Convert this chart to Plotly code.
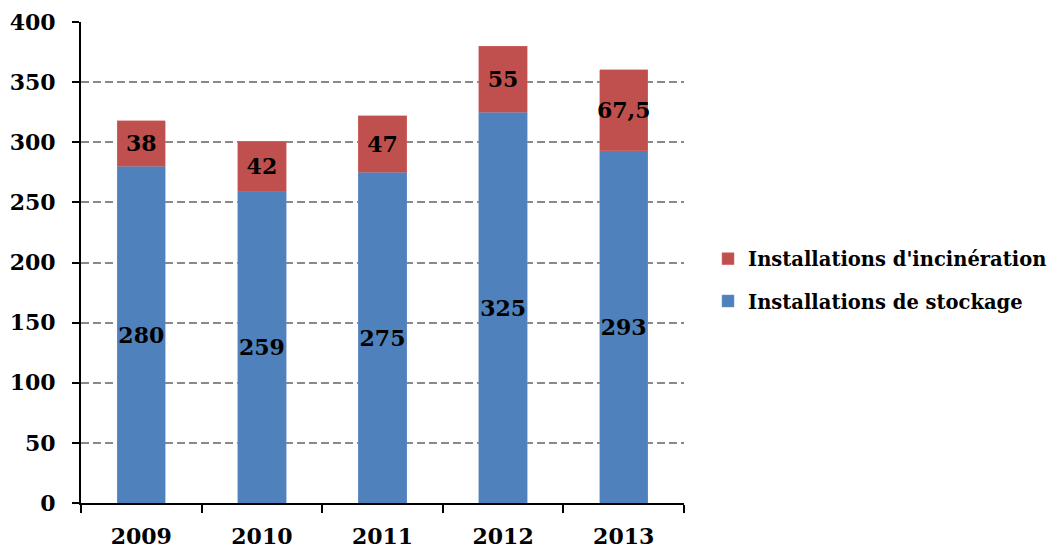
import plotly.graph_objects as go

years = ["2009", "2010", "2011", "2012", "2013"]
stockage = [280, 259, 275, 325, 293]
incineration = [38, 42, 47, 55, 67.5]
stockage_labels = ["280", "259", "275", "325", "293"]
incineration_labels = ["38", "42", "47", "55", "67,5"]
y_ticks = [0, 50, 100, 150, 200, 250, 300, 350, 400]

FONT = "DejaVu Serif"

fig = go.Figure()
fig.add_trace(go.Bar(
    x=years, y=stockage, name="<b>Installations de stockage</b>",
    legendgroup="s", legendrank=2,
    marker=dict(color="#4F81BD", line=dict(color="#6F95C8", width=0.5)),
    text=[f"<b>{t}</b>" for t in stockage_labels], textposition="inside",
    insidetextanchor="middle", textangle=0, constraintext="none",
    textfont=dict(family=FONT, size=22, color="black"),
    width=0.4,
))
fig.add_trace(go.Bar(
    x=years, y=incineration, name="<b>Installations d'incinération</b>",
    legendgroup="i", legendrank=1,
    marker=dict(color="#C0504D", line=dict(color="#D07270", width=0.5)),
    text=[f"<b>{t}</b>" for t in incineration_labels], textposition="inside",
    insidetextanchor="middle", textangle=0, constraintext="none",
    textfont=dict(family=FONT, size=22, color="black"),
    width=0.4,
))

fig.update_layout(
    barmode="stack",
    width=1056, height=549,
    margin=dict(l=73, r=380, t=14, b=54),
    plot_bgcolor="white", paper_bgcolor="white",
    font=dict(family=FONT, size=22, color="black"),
    legend=dict(
        xref="container", yref="container",
        x=0.6629, y=0.5046, xanchor="left", yanchor="middle",
        traceorder="grouped", tracegroupgap=14,
        font=dict(family=FONT, size=19.5, color="black"),
        itemwidth=30,
    ),
    showlegend=True,
)
fig.update_xaxes(
    automargin=False,
    showline=True, linecolor="black", linewidth=2,
    ticks="outside", tickson="boundaries", ticklen=8, tickcolor="black", tickwidth=2,
    tickfont=dict(family=FONT, size=22, color="black"),
    tickprefix="<b>", ticksuffix="</b>",
    ticklabelstandoff=13,
    showgrid=False,
)
fig.update_yaxes(
    automargin=False,
    range=[0, 400], tickvals=y_ticks,
    ticktext=[f"<b>{v}</b>" for v in y_ticks],
    showline=True, linecolor="black", linewidth=2,
    ticks="outside", ticklen=7, tickcolor="black", tickwidth=2,
    tickfont=dict(family=FONT, size=22, color="black"),
    ticklabelstandoff=12,
    showgrid=True, gridcolor="#898989", gridwidth=2, griddash="8px,4px",
    zeroline=False,
)

fig.write_html("out.html")
